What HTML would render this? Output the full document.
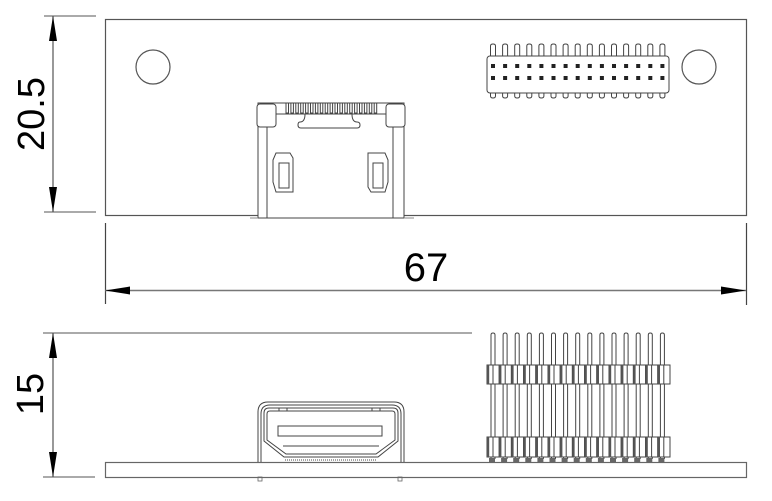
<!DOCTYPE html>
<html><head><meta charset="utf-8"><style>
html,body{margin:0;padding:0;background:#fff;}
svg{display:block;}
text{font-family:"Liberation Sans",sans-serif;fill:#000;}
</style></head><body>
<svg id="s" width="772" height="501" viewBox="0 0 772 501" xmlns="http://www.w3.org/2000/svg" fill="none" stroke="#444" stroke-width="1.2">
<rect x="105.5" y="19.5" width="641" height="196" stroke="#555"/>
<circle cx="153" cy="67" r="17" stroke="#555"/>
<circle cx="699" cy="67" r="17" stroke="#555"/>
<line x1="44" y1="16" x2="96" y2="16" stroke="#777"/>
<line x1="44" y1="212" x2="96" y2="212" stroke="#777"/>
<line x1="53" y1="16" x2="53" y2="212" stroke="#555"/>
<polygon points="53,16 49,41 57,41" fill="#000" stroke="none"/>
<polygon points="53,212 49,187 57,187" fill="#000" stroke="none"/>
<text x="0" y="0" font-size="38" text-anchor="middle" transform="translate(44,114) rotate(-90)" stroke="none">20.5</text>
<line x1="105.5" y1="223" x2="105.5" y2="304" stroke="#444"/>
<line x1="746.5" y1="223" x2="746.5" y2="305" stroke="#444"/>
<line x1="105" y1="290.5" x2="746" y2="290.5" stroke="#777" stroke-width="1.5"/>
<polygon points="105,290.5 130,286.5 130,294.5" fill="#000" stroke="none"/>
<polygon points="746,290.5 721,286.5 721,294.5" fill="#000" stroke="none"/>
<text x="426" y="281" font-size="40" text-anchor="middle" stroke="none">67</text>
<g stroke="#444" stroke-width="1">
<rect x="258" y="103" width="146" height="115" fill="#fff"/>
<line x1="267" y1="114" x2="267" y2="218"/>
<line x1="393" y1="114" x2="393" y2="218"/>
<line x1="267" y1="114" x2="393" y2="114"/>
<rect x="257" y="104" width="19" height="23" rx="3" fill="#fff"/>
<rect x="386" y="104" width="19" height="23" rx="3" fill="#fff"/>
<path d="M305,114 q0,8 -5,8 q-2,0 -2,3 q0,3 3,3 h56 q3,0 3,-3 q0,-3 -3,-3 q-5,0 -5,-8" />
<path d="M276,192 l-3,-10 v-22 l3,-7 h14 l3,5 v34 z"/>
<path d="M279,188 v-25 h10 v25 z"/>
<path d="M371,192 l-3,-5 v-34 l3,-0 h14 l3,7 v22 l-3,10 z"/>
<path d="M373,188 v-25 h10 v25 z"/>
<line x1="250" y1="218" x2="258" y2="218" stroke="#888"/>
<line x1="404" y1="218" x2="414" y2="218" stroke="#888"/>
<g id="teeth"></g>
</g>
<g id="hdrTop" stroke="#444" stroke-width="1"></g>
<line x1="43" y1="333" x2="472" y2="333" stroke="#777"/>
<line x1="43" y1="477" x2="95" y2="477" stroke="#777"/>
<line x1="53" y1="333" x2="53" y2="477" stroke="#555"/>
<polygon points="53,333 49,358 57,358" fill="#000" stroke="none"/>
<polygon points="53,477 49,452 57,452" fill="#000" stroke="none"/>
<text x="0" y="0" font-size="38" text-anchor="middle" transform="translate(43,394) rotate(-90)" stroke="none">15</text>
<rect x="105.5" y="462.5" width="641" height="15" stroke="#666"/>
<rect x="258" y="477" width="4" height="4" stroke="#666" stroke-width="0.8"/>
<rect x="398" y="477" width="4" height="4" stroke="#666" stroke-width="0.8"/>
<g stroke="#444" stroke-width="1">
<path d="M258,462 v-50 q0,-10 10,-10 h126 q10,0 10,10 v50"/>
<path d="M261,462 v-48 q0,-9 9,-9 h122 q9,0 9,9 v48"/>
<path d="M264,441 v-28 q0,-5 5,-5 h124 q5,0 5,5 v28 l-20,16 h-94 z"/>
<path d="M267,440 v-26 q0,-3 3,-3 h122 q3,0 3,3 v26 l-19,14 h-90 z"/>
<rect x="278" y="426" width="104" height="10"/>
<line x1="283" y1="446" x2="379" y2="446"/>
<rect x="279" y="408" width="8" height="3"/>
<rect x="372" y="408" width="8" height="3"/>
<line x1="285" y1="460" x2="377" y2="460" stroke-dasharray="1 1"/>
</g>
<g id="hdrSide" stroke="#444" stroke-width="1"></g>
</svg>
<script>
var NS="http://www.w3.org/2000/svg";
function el(p,t,a){var e=document.createElementNS(NS,t);for(var k in a)e.setAttribute(k,a[k]);p.appendChild(e);return e;}
var teeth=document.getElementById('teeth');
for(var i=0;i<19;i++){var x=286+i*4.9;el(teeth,'rect',{x:x,y:103,width:2.5,height:10,fill:'#fff'});}
var ht=document.getElementById('hdrTop');
for(var i=0;i<15;i++){var cx=493+i*12.1;
el(ht,'path',{d:'M'+(cx-2.5)+',56 v-10 q0,-2 2.5,-2 q2.5,0 2.5,2 v10'});
el(ht,'path',{d:'M'+(cx-2.5)+',93 v3 q0,2 2.5,2 q2.5,0 2.5,-2 v-3'});
el(ht,'rect',{x:cx-2,y:64,width:4,height:4,fill:'#222',stroke:'none'});
el(ht,'rect',{x:cx-2,y:76,width:4,height:4,fill:'#222',stroke:'none'});}
el(ht,'rect',{x:487,y:56,width:182,height:37,rx:3,fill:'none'});
var hs=document.getElementById('hdrSide');
for(var i=0;i<15;i++){var cx=493+i*12.1;
el(hs,'path',{d:'M'+(cx-2)+',459 V335 q0,-2 2,-2 q2,0 2,2 V459'});
el(hs,'rect',{x:cx-4,y:458,width:6,height:4,fill:'#666',stroke:'none'});}
[[365,19],[437,20]].forEach(function(b){
for(var i=0;i<15;i++){var x=487+i*12.2;
el(hs,'rect',{x:x,y:b[0],width:12.2,height:b[1],fill:'#fff'});
el(hs,'rect',{x:x,y:b[0],width:2.2,height:b[1],fill:'#555',stroke:'none'});
el(hs,'line',{x1:x+6,y1:b[0],x2:x+6,y2:b[0]+b[1]});}});
</script>
</body></html>
